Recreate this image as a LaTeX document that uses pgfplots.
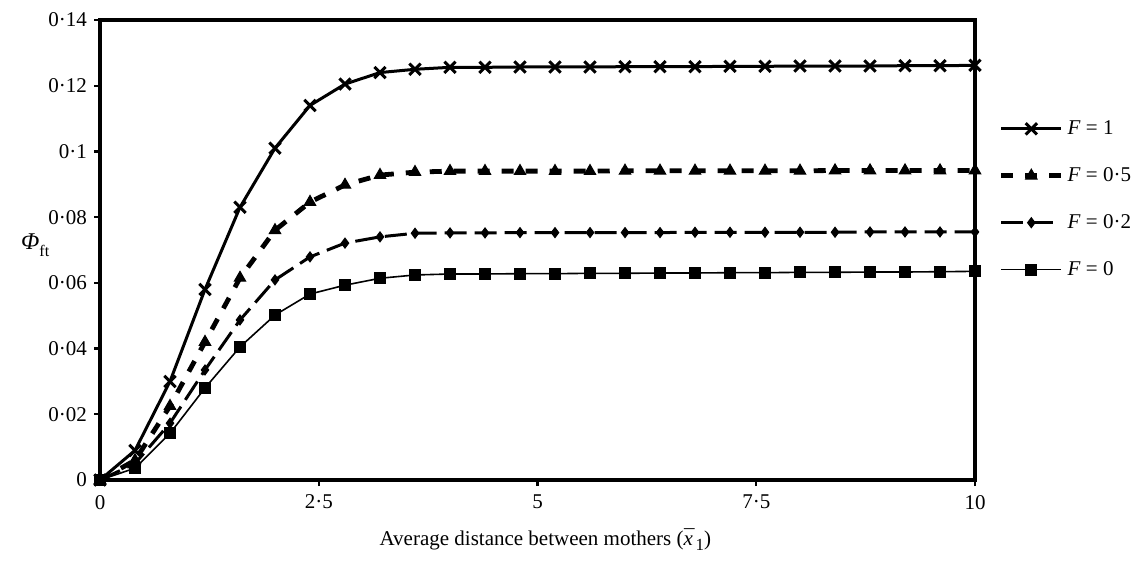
\documentclass[border=0pt]{standalone}
\usepackage{fontspec}
\setmainfont{Liberation Serif}
\usepackage{pgfplots}
\pgfplotsset{compat=1.18}
\usepackage{pgfplotstable}

% x = average distance between mothers, steps of 0.4
\pgfplotstableread{
x     f1      f05     f02     f0
0.0   0.0000  0.0000  0.0000  0.0000
0.4   0.0090  0.0060  0.0050  0.0036
0.8   0.0300  0.0225  0.0173  0.0142
1.2   0.0580  0.0420  0.0335  0.0280
1.6   0.0830  0.0615  0.0487  0.0405
2.0   0.1010  0.0760  0.0609  0.0502
2.4   0.1140  0.0846  0.0679  0.0566
2.8   0.1205  0.0898  0.0721  0.0593
3.2   0.1240  0.0928  0.0740  0.0614
3.6   0.1250  0.0937  0.0751  0.0624
4.0   0.1256  0.0940  0.0752  0.0627
4.4   0.1256  0.0940  0.0752  0.0627
4.8   0.1257  0.0940  0.0753  0.0628
5.2   0.1257  0.0940  0.0753  0.0628
5.6   0.1257  0.0940  0.0753  0.0629
6.0   0.1258  0.0941  0.0753  0.0629
6.4   0.1258  0.0941  0.0753  0.0630
6.8   0.1258  0.0941  0.0754  0.0630
7.2   0.1259  0.0941  0.0754  0.0631
7.6   0.1259  0.0941  0.0754  0.0631
8.0   0.1260  0.0941  0.0754  0.0632
8.4   0.1260  0.0942  0.0754  0.0632
8.8   0.1260  0.0942  0.0755  0.0633
9.2   0.1261  0.0942  0.0755  0.0633
9.6   0.1261  0.0942  0.0755  0.0634
10.0  0.1262  0.0942  0.0755  0.0635
}\mothers

\begin{document}
\begin{tikzpicture}
\useasboundingbox (-50pt,-42pt) rectangle (517pt,240pt);
\begin{axis}[
  scale only axis,
  width=437.5pt, height=230pt,
  xmin=0, xmax=10, ymin=0, ymax=0.14,
  clip=false,
  xtick={0,2.5,5,7.5,10},
  xticklabels={0,2·5,5,7·5,10},
  ytick={0,0.02,0.04,0.06,0.08,0.1,0.12,0.14},
  yticklabels={0,0·02,0·04,0·06,0·08,0·1,0·12,0·14},
  tick align=outside, xtick pos=bottom, ytick pos=left,
  major tick length=3pt,
  tick style={black, line width=1.2pt},
  axis line style={line width=2pt},
  ticklabel style={font=\fontsize{10.5}{12}\selectfont},
  xticklabel style={yshift=-1pt},
  xlabel={Average distance between mothers (\textit{x}\kern-0.42em\raisebox{0.05ex}{¯}\kern0.05em\raisebox{-0.6ex}{\fontsize{8.5}{9}\selectfont 1})},
  xlabel style={font=\fontsize{10.5}{12}\selectfont, at={(axis description cs:0.509,-0.13)}, anchor=center},
  ylabel={\fontsize{12}{13}\selectfont\textit{Φ}\raisebox{-0.6ex}{\fontsize{8}{9}\selectfont ft}},
  ylabel style={rotate=-90, at={(axis description cs:-0.074,0.51)}, anchor=center},
  legend style={draw=none, fill=none, at={(axis description cs:1.02,0.80)}, anchor=north west,
    row sep=11pt, font=\fontsize{10.5}{12}\selectfont},
  legend cell align=left,
  legend image code/.code={\draw[mark repeat=2, mark phase=2] plot coordinates {(0pt,0pt) (15pt,0pt) (30pt,0pt)};},
]
\addplot[black, line width=1.5pt, mark=x, mark size=4pt, mark options={solid, line width=1.5pt}]
  table[x=x, y=f1] {\mothers};
\addplot[black, line width=2.4pt, dash pattern=on 6pt off 6pt, mark=triangle*, mark size=3.3pt, mark options={solid, line width=0.5pt}]
  table[x=x, y=f05] {\mothers};
\addplot[black, line width=1.5pt, dash pattern=on 11pt off 4pt, mark=diamond*, mark size=2.5pt, mark options={solid, line width=0.5pt}]
  table[x=x, y=f02] {\mothers};
\addplot[black, line width=0.8pt, mark=square*, mark size=2.6pt, mark options={solid}]
  table[x=x, y=f0] {\mothers};
\legend{\textit{F} = 1, \textit{F} = 0·5, \textit{F} = 0·2, \textit{F} = 0}
\end{axis}
\end{tikzpicture}
\end{document}
